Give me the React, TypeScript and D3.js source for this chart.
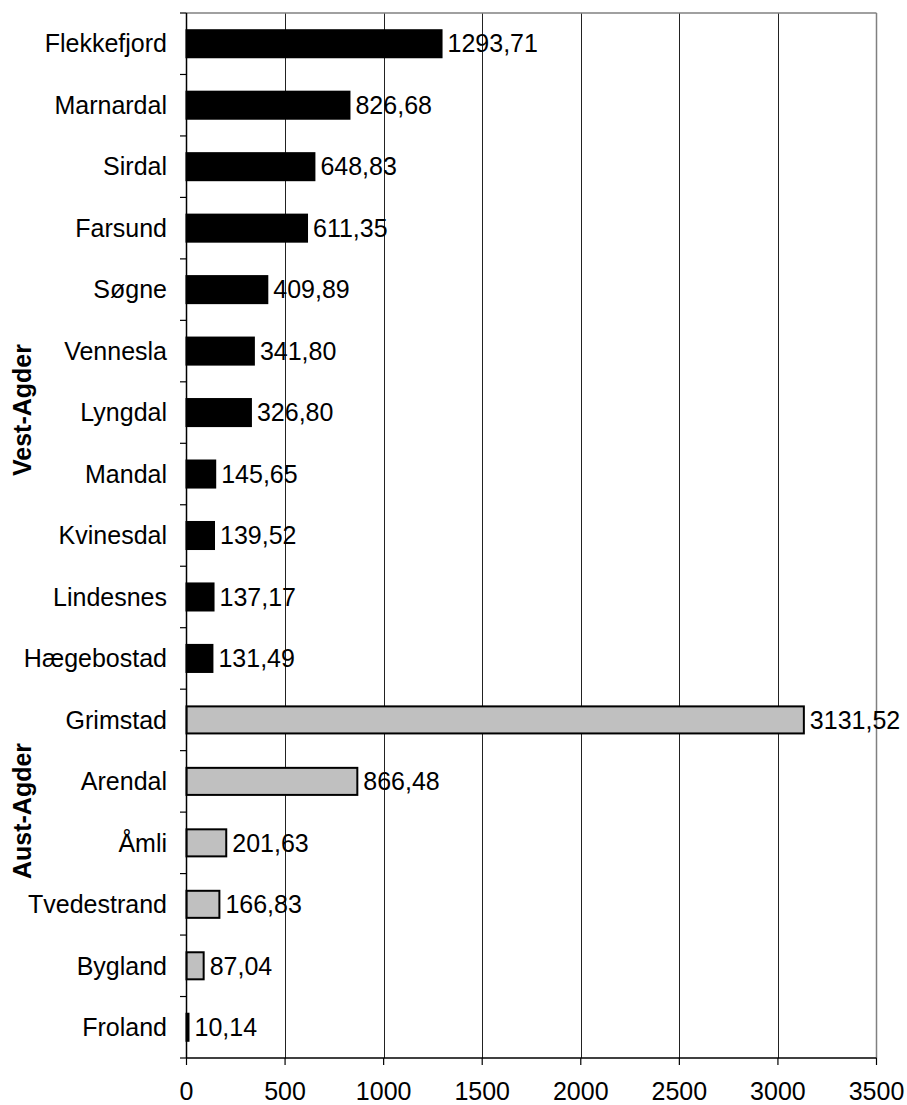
import React from "react";
import * as d3 from "d3";

const vestCategories = ["Flekkefjord", "Marnardal", "Sirdal", "Farsund", "Søgne", "Vennesla", "Lyngdal", "Mandal", "Kvinesdal", "Lindesnes", "Hægebostad"];
const vestValues = [1293.71, 826.68, 648.83, 611.35, 409.89, 341.80, 326.80, 145.65, 139.52, 137.17, 131.49];
const austCategories = ["Grimstad", "Arendal", "Åmli", "Tvedestrand", "Bygland", "Froland"];
const austValues = [3131.52, 866.48, 201.63, 166.83, 87.04, 10.14];
const groupLabels = ["Vest-Agder", "Aust-Agder"];
const xTicks = [0, 500, 1000, 1500, 2000, 2500, 3000, 3500];

const W = 907, H = 1105;
const left = 186.5, right = 876.5, top = 13, bottom = 1058;
const FONT = "Arial, 'Liberation Sans', sans-serif";
const FS = 25;

export default function App() {
  const rows = [
    ...vestCategories.map((c, i) => ({ cat: c, value: vestValues[i], group: 0 })),
    ...austCategories.map((c, i) => ({ cat: c, value: austValues[i], group: 1 })),
  ];
  const x = d3.scaleLinear().domain([0, 3500]).range([left, right]);
  const y = d3.scaleBand<string>().domain(rows.map(r => r.cat)).range([top, bottom]).paddingInner(0.56).paddingOuter(0.28);
  const step = y.step();
  const fmt = (v: number) => d3.format(".2f")(v).replace(".", ",");
  const boundaries = d3.range(rows.length + 1).map(i => top + i * step);
  const vestCenter = 410;
  const austCenter = 811;

  return (
    <svg width={W} height={H} style={{ position: "absolute", left: 0, top: 0, background: "#fff" }} fontFamily={FONT}>
      <rect x={0} y={0} width={W} height={H} fill="#fff" />
      {/* gridlines */}
      {xTicks.slice(1, -1).map(t => (
        <line key={t} x1={Math.round(x(t)) + 0.5} x2={Math.round(x(t)) + 0.5} y1={top} y2={bottom} stroke="#222" strokeWidth={1} />
      ))}
      {/* top and right border */}
      <line x1={left} x2={right} y1={top} y2={top} stroke="#808080" strokeWidth={1.5} />
      <line x1={right} x2={right} y1={top} y2={bottom} stroke="#808080" strokeWidth={1.5} />
      {/* bars */}
      {rows.map(r => (
        <rect key={r.cat} x={x(0)} y={y(r.cat)!} width={x(r.value) - x(0)} height={y.bandwidth()}
          fill={r.group === 0 ? "#000" : "#c0c0c0"} stroke="#000" strokeWidth={2} />
      ))}
      {/* value labels */}
      {rows.map(r => (
        <text key={r.cat} x={x(r.value) + 6} y={y(r.cat)! + y.bandwidth() / 2} dy="0.35em" fontSize={FS} fill="#000">{fmt(r.value)}</text>
      ))}
      {/* category labels */}
      {rows.map(r => (
        <text key={r.cat} x={167} y={y(r.cat)! + y.bandwidth() / 2} dy="0.35em" fontSize={FS} textAnchor="end" fill="#000">{r.cat}</text>
      ))}
      {/* y axis */}
      <line x1={left} x2={left} y1={top} y2={bottom} stroke="#000" strokeWidth={1.5} />
      {boundaries.map((b, i) => (
        <line key={i} x1={180} x2={left} y1={b} y2={b} stroke="#000" strokeWidth={1.2} />
      ))}
      {/* x axis */}
      <line x1={left} x2={right} y1={bottom} y2={bottom} stroke="#000" strokeWidth={1.5} />
      {xTicks.map(t => (
        <g key={t}>
          <line x1={x(t)} x2={x(t)} y1={bottom} y2={bottom + 7} stroke="#000" strokeWidth={1.2} />
          <text x={x(t)} y={1100} fontSize={FS} textAnchor="middle" fill="#000">{t}</text>
        </g>
      ))}
      {/* group labels */}
      <text transform={`translate(22,${vestCenter}) rotate(-90)`} textAnchor="middle" dy="0.35em" fontSize={FS} fontWeight="bold" fill="#000">{groupLabels[0]}</text>
      <text transform={`translate(22,${austCenter}) rotate(-90)`} textAnchor="middle" dy="0.35em" fontSize={FS} fontWeight="bold" fill="#000">{groupLabels[1]}</text>
    </svg>
  );
}
